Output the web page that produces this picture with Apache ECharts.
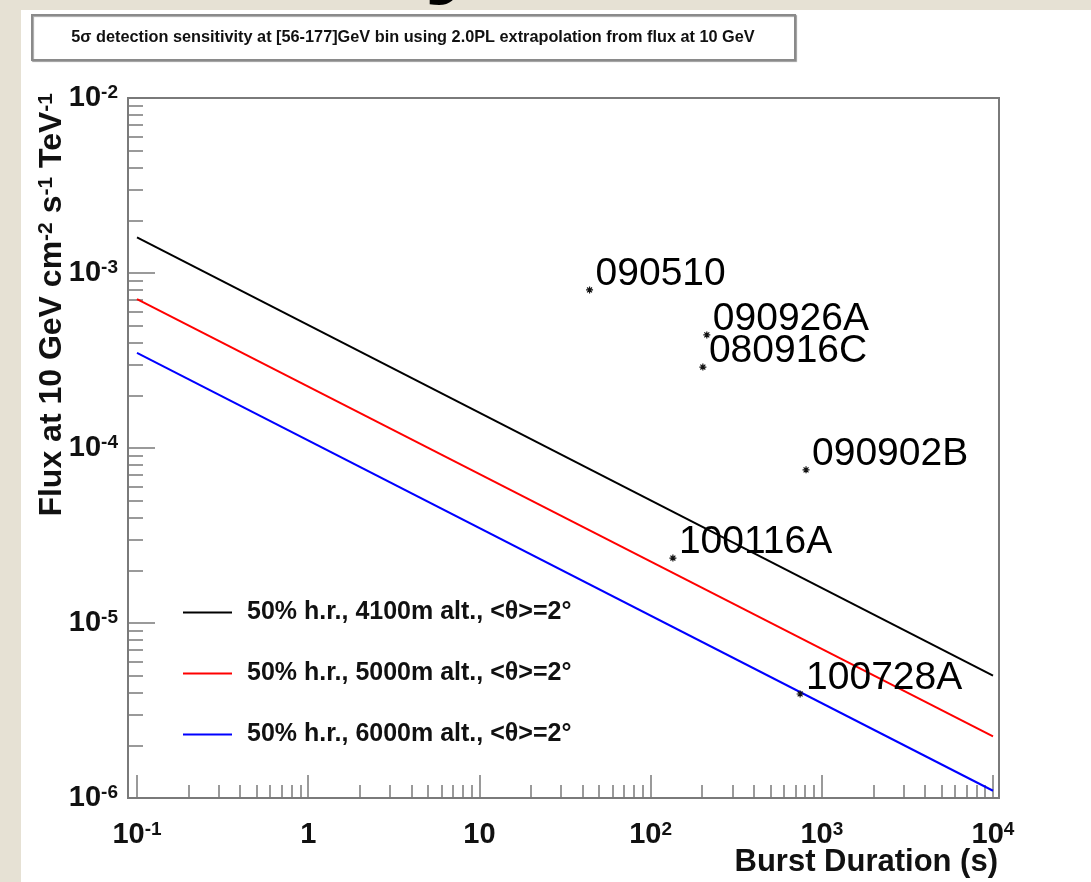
<!DOCTYPE html>
<html>
<head>
<meta charset="utf-8">
<title>5σ detection sensitivity</title>
<script src="https://cdn.jsdelivr.net/npm/echarts@6/dist/echarts.min.js"></script>
<style>
  html, body { margin: 0; padding: 0; background: #e6e1d4; }
  #chart { width: 1091px; height: 882px; }
</style>
</head>
<body>
<div id="chart"></div>
<script>
// Sensitivity curves: flux needed for a 5σ detection vs burst duration (power law, end points)
const durations = [0.1, 10000];
const flux4100 = [1.6e-3, 5.0e-6];
const flux5000 = [7.1e-4, 2.25e-6];
const flux6000 = [3.5e-4, 1.1e-6];
const curveNames = [
  '50% h.r., 4100m alt., <θ>=2°',
  '50% h.r., 5000m alt., <θ>=2°',
  '50% h.r., 6000m alt., <θ>=2°'
];
const curveColors = ['#000000', '#ff0000', '#0000ff'];

// Fermi-LAT bursts: duration (s) and extrapolated flux at 10 GeV
const grbNames = ['090510', '090926A', '080916C', '090902B', '100116A', '100728A'];
const grbDuration = [44, 213, 202, 809, 135, 747];
const grbFlux = [8.0e-4, 4.43e-4, 2.9e-4, 7.5e-5, 2.35e-5, 3.93e-6];

// Axis tick values
const xMajor = [0.1, 1, 10, 100, 1000, 10000];
const yMajor = [1e-6, 1e-5, 1e-4, 1e-3, 1e-2];

const titleText = '5σ detection sensitivity at [56-177]GeV bin using 2.0PL extrapolation from flux at 10 GeV';
const xTitle = 'Burst Duration (s)';

function minorsOf(majors) {
  const out = [];
  for (let i = 0; i < majors.length - 1; i++) {
    for (let k = 2; k <= 9; k++) out.push(+(k * majors[i]).toPrecision(6));
  }
  return out;
}
const xMinor = minorsOf(xMajor);
const yMinor = minorsOf(yMajor);

const FONT = '"Liberation Sans", Arial, Helvetica, sans-serif';
const AXIS_GREY = '#7a7a7a';

function powLabel(v) {
  const e = Math.round(Math.log10(v));
  if (e === 0) return '{b|1}';
  if (e === 1) return '{b|10}';
  return '{b|10}{s|' + e + '}';
}
const labelRich = {
  b: { fontSize: 29, fontWeight: 'bold', fontFamily: FONT, color: '#111' },
  s: { fontSize: 19, fontWeight: 'bold', fontFamily: FONT, color: '#111', verticalAlign: 'top' }
};

// Small asterisk marker
const asterisk = 'path://M0,5 L10,5 M5,0 L5,10 M1.5,1.5 L8.5,8.5 M8.5,1.5 L1.5,8.5';

function logX(ticks, len, labels) {
  return {
    type: 'log', logBase: 10, gridIndex: 0, min: 0.1, max: 10000, position: 'bottom',
    axisLine: { show: false },
    axisTick: { show: true, inside: true, length: len, customValues: ticks,
      lineStyle: { color: AXIS_GREY, width: 1.5 } },
    axisLabel: labels ? { show: true, customValues: ticks, formatter: powLabel, margin: 22, rich: labelRich }
                      : { show: false },
    splitLine: { show: false }, minorTick: { show: false }, minorSplitLine: { show: false }
  };
}
function logY(ticks, len, labels) {
  return {
    type: 'log', logBase: 10, gridIndex: 0, min: 1e-6, max: 1e-2, position: 'left', offset: 9,
    axisLine: { show: false },
    axisTick: { show: true, inside: true, length: len, customValues: ticks,
      lineStyle: { color: AXIS_GREY, width: 1.5 } },
    axisLabel: labels ? { show: true, customValues: ticks, formatter: powLabel, margin: 10, rich: labelRich }
                      : { show: false },
    splitLine: { show: false }, minorTick: { show: false }, minorSplitLine: { show: false }
  };
}

const curves = [flux4100, flux5000, flux6000].map((f, i) => ({
  type: 'line',
  name: curveNames[i],
  xAxisIndex: 0, yAxisIndex: 0,
  data: durations.map((d, j) => [d, f[j]]),
  symbol: 'none',
  lineStyle: { color: curveColors[i], width: 2 },
  itemStyle: { color: curveColors[i] },
  silent: true, z: 3
}));

const option = {
  animation: false,
  backgroundColor: '#e6e1d4',
  grid: [
    { left: 137, right: 98, top: 98, bottom: 84, containLabel: false, outerBoundsMode: 'none' },
    { left: 128, right: 92, top: 98, bottom: 84, show: true, borderColor: AXIS_GREY, borderWidth: 2,
      backgroundColor: 'transparent', outerBoundsMode: 'none' }
  ],
  xAxis: [
    logX(xMajor, 23, true),
    logX(xMinor, 13, false),
    { type: 'value', gridIndex: 1, show: false, min: 0, max: 1 }
  ],
  yAxis: [
    logY(yMajor, 27, true),
    logY(yMinor, 15, false),
    { type: 'value', gridIndex: 1, show: false, min: 0, max: 1 }
  ],
  legend: {
    show: true, orient: 'vertical', left: 178, top: 595,
    icon: 'rect', itemWidth: 49, itemHeight: 2, itemGap: 36, selectedMode: false,
    data: curveNames,
    textStyle: { fontSize: 25, fontWeight: 'bold', fontFamily: FONT, color: '#111', padding: [0, 0, 0, 10] }
  },
  graphic: [
    { type: 'text', z: -2, x: 424, y: 7,
      style: { text: 'y', fontSize: 110, fontWeight: 'bold', fontFamily: FONT, fill: '#000',
        align: 'left', verticalAlign: 'bottom' } },
    { type: 'rect', z: -1, shape: { x: 21, y: 10, width: 1070, height: 872 }, style: { fill: '#ffffff' } },
    { type: 'rect', shape: { x: 32, y: 15, width: 763, height: 45 },
      style: { fill: '#ffffff', stroke: '#8a8a8a', lineWidth: 2,
        shadowColor: 'rgba(0,0,0,0.35)', shadowOffsetX: 1, shadowOffsetY: 1, shadowBlur: 1 } },
    { type: 'text', x: 413, y: 38,
      style: { text: titleText, fontSize: 16.3, fontWeight: 'bold', fontFamily: FONT, fill: '#111',
        align: 'center', verticalAlign: 'middle' } },
    { type: 'text', x: 52, y: 93, rotation: Math.PI / 2,
      style: {
        text: '{a|Flux at 10 GeV cm}{s|-2}{a| s}{s|-1}{a| TeV}{s|-1}',
        align: 'right', verticalAlign: 'middle',
        rich: {
          a: { fontSize: 32, fontWeight: 'bold', fontFamily: FONT, fill: '#111' },
          s: { fontSize: 21, fontWeight: 'bold', fontFamily: FONT, fill: '#111', verticalAlign: 'top' }
        }
      } },
    { type: 'text', x: 998, y: 862,
      style: { text: xTitle, fontSize: 31, fontWeight: 'bold', fontFamily: FONT, fill: '#111',
        align: 'right', verticalAlign: 'middle' } }
  ],
  series: curves.concat([{
    type: 'scatter',
    name: 'GRB',
    xAxisIndex: 0, yAxisIndex: 0,
    data: grbNames.map((n, i) => ({ name: n, value: [grbDuration[i], grbFlux[i]] })),
    symbol: asterisk, symbolSize: 7,
    itemStyle: { color: 'none', borderColor: '#111', borderWidth: 1.2, opacity: 1 },
    label: {
      show: true, formatter: '{b}', position: 'right', distance: 0,
      align: 'left', verticalAlign: 'bottom', offset: [0, 4],
      fontSize: 39, fontFamily: FONT, color: '#000', opacity: 1
    },
    silent: true, z: 4
  }])
};

const chart = echarts.init(document.getElementById('chart'), null, { renderer: 'canvas' });
chart.setOption(option);
</script>
</body>
</html>
